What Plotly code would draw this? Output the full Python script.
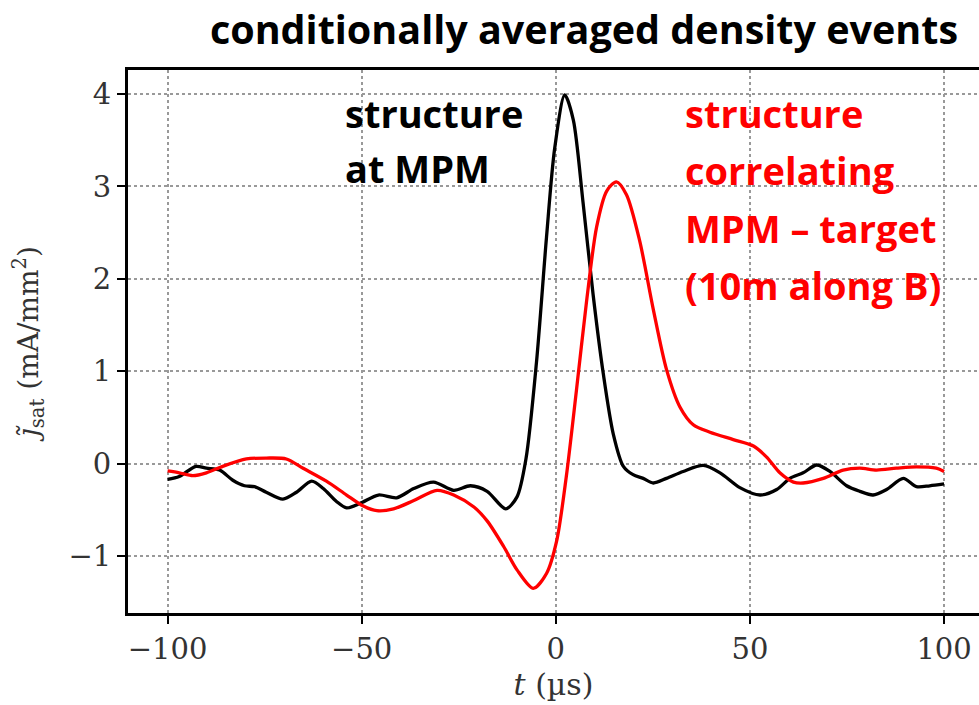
import plotly.graph_objects as go

# ---- data ----
t_mpm = [-100, -97, -92.7, -90, -86.6, -83.2, -80.2, -77.6, -74.6, -70.3, -66.8, -62.9,
         -59.9, -56.5, -53.9, -50.4, -45.7, -41, -36.6, -31.5, -26.3, -22, -17.7, -12.9,
         -10, -7.7, -5, -2.4, -0.3, 2.3, 4.5, 7, 9.6, 12.2, 14.8, 17.4, 19.9, 22.5, 25.1,
         28.5, 32.8, 38, 42.3, 47.4, 52.6, 56.9, 60.3, 63.7, 67.2, 70.6, 74.9, 78.3, 81.7,
         85.2, 89.5, 92.9, 96.3, 100]
j_mpm = [-0.17, -0.14, -0.03, -0.05, -0.07, -0.18, -0.24, -0.25, -0.31, -0.385, -0.31, -0.19,
         -0.27, -0.41, -0.48, -0.43, -0.34, -0.37, -0.27, -0.2, -0.29, -0.24, -0.30, -0.49,
         -0.36, 0.05, 1.09, 2.45, 3.41, 3.99, 3.72, 2.83, 1.83, 0.98, 0.32, -0.03, -0.12, -0.16,
         -0.21, -0.16, -0.085, -0.02, -0.10, -0.26, -0.34, -0.28, -0.16, -0.10, -0.015, -0.085,
         -0.24, -0.30, -0.34, -0.28, -0.16, -0.25, -0.24, -0.22]

t_corr = [-100, -97, -93.5, -90, -85.8, -79.7, -74.6, -69.4, -65.1, -59.1, -53.9, -49.6,
          -46.1, -41.8, -36.6, -30.6, -26.3, -21.1, -17.7, -13.4, -10, -5.8, -2.4, 0.2, 2.7,
          5.3, 7.9, 10.5, 13.1, 15.6, 18.2, 21.6, 25.1, 28.5, 32, 35.4, 39.7, 45.7, 50.9,
          54.3, 57.7, 61.2, 63.7, 68.9, 74, 78.3, 82.6, 87.7, 92.9, 98, 100]
j_corr = [-0.08, -0.10, -0.13, -0.10, -0.03, 0.05, 0.06, 0.05, -0.05, -0.19, -0.34, -0.46,
          -0.51, -0.49, -0.40, -0.29, -0.34, -0.47, -0.62, -0.90, -1.15, -1.35, -1.19, -0.84,
          -0.14, 0.79, 1.75, 2.56, 2.95, 3.05, 2.91, 2.41, 1.67, 1.02, 0.61, 0.42, 0.34, 0.26,
          0.19, 0.07, -0.10, -0.20, -0.21, -0.16, -0.07, -0.05, -0.07, -0.05, -0.035, -0.05,
          -0.085]

x_ticks = [-100, -50, 0, 50, 100]
y_ticks = [-1, 0, 1, 2, 3, 4]

title_text = "conditionally averaged density events"
black_lines = ["structure", "at MPM"]
red_lines = ["structure", "correlating", "MPM \u2013 target", "(10m along B)"]

fig = go.Figure()
fig.add_trace(go.Scatter(x=t_mpm, y=j_mpm, mode="lines",
                         line=dict(color="black", width=3.3, shape="spline", smoothing=0.8),
                         showlegend=False, hoverinfo="skip"))
fig.add_trace(go.Scatter(x=t_corr, y=j_corr, mode="lines",
                         line=dict(color="#ff0000", width=3.3, shape="spline", smoothing=0.8),
                         showlegend=False, hoverinfo="skip"))

W, H = 979, 705
L, R, T, B = 128, 0, 70, 92
pw, ph = W - L - R, H - T - B

def px(x):
    return (x - L) / pw

def py(y):
    return (H - B - y) / ph

ann_font = dict(family="Open Sans", size=38, color="black")
for txt, yy in zip(black_lines, [113, 168]):
    fig.add_annotation(text="<b>%s</b>" % txt, x=px(343), y=py(yy), xref="paper", yref="paper",
                       xanchor="left", yanchor="middle", showarrow=False,
                       font=ann_font)
for txt, yy in zip(red_lines, [113, 170, 228, 285]):
    fig.add_annotation(text="<b>%s</b>" % txt, x=px(683), y=py(yy), xref="paper", yref="paper",
                       xanchor="left", yanchor="middle", showarrow=False,
                       font=dict(family="Open Sans", size=38, color="#ff0000"))

tick_font = dict(family="DejaVu Serif", size=29, color="#333333")
fig.update_layout(
    width=W, height=H,
    margin=dict(l=L, r=R, t=T, b=B, pad=0),
    paper_bgcolor="white", plot_bgcolor="white",
    title=dict(text="<b>%s</b>" % title_text, x=584 / W, xref="container", xanchor="center",
               y=1 - 30 / H, yref="container", yanchor="middle",
               font=dict(family="Open Sans", size=39.5, color="black")),
    xaxis=dict(range=[-110.2, 109.0], tickvals=x_ticks,
               ticktext=["\u2212100", "\u221250", "0", "50", "100"],
               showline=True, linecolor="black", linewidth=3, mirror=True,
               ticks="outside", ticklen=8, tickwidth=1.5, tickcolor="black",
               showgrid=True, gridcolor="#999999", griddash="dot", gridwidth=1.5,
               zeroline=False, tickfont=tick_font,
               title=dict(text="<i>t</i> (\u00b5s)", font=dict(family="DejaVu Serif", size=30, color="#333333"),
                          standoff=10)),
    yaxis=dict(range=[-1.617, 4.26], tickvals=y_ticks,
               ticktext=["\u22121", "0", "1", "2", "3", "4"],
               showline=True, linecolor="black", linewidth=3, mirror=False,
               ticks="outside", ticklen=8, tickwidth=1.5, tickcolor="black",
               showgrid=True, gridcolor="#999999", griddash="dot", gridwidth=1.5,
               zeroline=False, tickfont=tick_font,
               title=dict(text="<i>\u0237\u0303</i><sub>sat</sub> (mA/mm<sup>2</sup>)",
                          font=dict(family="DejaVu Serif", size=28, color="#333333"),
                          standoff=22)),
)

fig.write_html("out.html")
